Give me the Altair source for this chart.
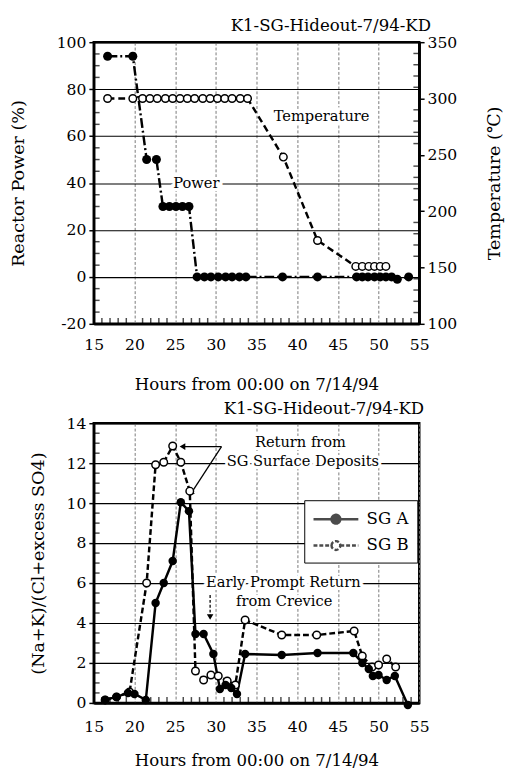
import altair as alt
import pandas as pd

FONT = "DejaVu Serif"
INK = "black"

# ---------------- top panel data ----------------
power_hours = [16.7, 19.8, 21.5, 22.7, 23.5, 24.3, 25.1, 25.9, 26.7,
               27.7, 28.6, 29.4, 30.3, 31.2, 32.0, 32.9, 33.7, 38.2, 42.5,
               47.3, 48.0, 48.7, 49.5, 50.2, 50.9, 51.6, 52.3, 53.7]
power_vals = [94, 94, 50, 50, 30, 30, 30, 30, 30,
              0, 0, 0, 0, 0, 0, 0, 0, 0, 0,
              0, 0, 0, 0, 0, 0, 0, -1, 0]
temp_hours = [16.7, 19.8, 21.0, 21.9, 22.8, 23.8, 24.7, 25.6, 26.5, 27.4,
              28.4, 29.3, 30.2, 31.1, 32.0, 33.0, 33.9, 38.3, 42.5,
              47.2, 48.0, 48.8, 49.5, 50.2, 50.9]
temp_vals = [300, 300, 300, 300, 300, 300, 300, 300, 300, 300,
             300, 300, 300, 300, 300, 300, 300, 248, 174,
             151, 151, 151, 151, 151, 151]
hour_ticks = [15, 20, 25, 30, 35, 40, 45, 50, 55]
power_ticks = [-20, 0, 20, 40, 60, 80, 100]
temp_ticks = [100, 150, 200, 250, 300, 350]
hour_minor = [h for h in range(16, 55) if h % 5]
power_minor = [v for v in range(-15, 100, 5) if v % 20]
temp_minor = [v for v in range(110, 350, 10) if v % 50]
top_labels = ["Power", "Temperature"]
top_label_hours = [27.6, 43.0]
top_label_power = [40, 68.5]

# ---------------- bottom panel data ----------------
a_hours = [16.4, 17.8, 19.2, 20.0, 21.4, 22.6, 23.6, 24.7, 25.7, 26.7,
           27.5, 28.5, 29.7, 30.5, 31.2, 31.9, 32.6, 33.6, 38.1, 42.5,
           46.9, 48.0, 48.8, 49.3, 50.0, 51.0, 52.0, 53.6]
a_vals = [0.15, 0.3, 0.5, 0.45, 0.15, 5.0, 6.0, 7.1, 10.05, 9.6,
          3.45, 3.45, 2.45, 0.7, 0.9, 0.75, 0.45, 2.45, 2.4, 2.5,
          2.5, 2.0, 1.7, 1.35, 1.4, 1.15, 1.35, -0.1]
b_hours = [16.4, 17.8, 19.4, 21.5, 22.6, 23.6, 24.7, 25.7, 26.8, 27.5,
           28.5, 29.4, 30.3, 31.4, 32.4, 33.6, 38.1, 42.4, 47.0, 48.0,
           49.2, 50.0, 51.0, 52.1]
b_vals = [0.15, 0.3, 0.55, 6.0, 11.92, 12.05, 12.86, 12.05, 10.6, 1.6,
          1.15, 1.4, 1.35, 1.1, 0.9, 4.15, 3.4, 3.4, 3.6, 2.35,
          1.8, 1.9, 2.2, 1.8]
series_names = ["SG A", "SG B"]
ratio_ticks = [0, 2, 4, 6, 8, 10, 12, 14]
ratio_minor = [v / 2 for v in range(1, 28) if v % 4]
note_texts = ["Return from", "SG Surface Deposits", "Early Prompt Return", "from Crevice"]
note_hours = [40.4, 40.7, 38.3, 38.4]
note_vals = [13.07, 12.1, 6.05, 5.12]
arrow_from_h = [30.7, 30.7, 29.3]
arrow_from_v = [12.83, 12.83, 5.4]
arrow_to_h = [25.9, 26.9, 29.3]
arrow_to_v = [12.83, 10.45, 4.3]
arrow_angle = [270, 213.5, 180]

# ---------------- helpers ----------------
W, H1, H2 = 334, 289, 287


def ax(**kw):
    d = dict(labelFont=FONT, labelFontSize=16, labelColor=INK, titleFont=FONT,
             titleFontSize=18, titleFontWeight="normal", titleColor=INK,
             domainColor=INK, domainWidth=2.5, tickColor=INK, tickWidth=1.5)
    d.update(kw)
    return alt.Axis(**d)


xs = alt.Scale(domain=[15, 55], nice=False, zero=False)
ps = alt.Scale(domain=[-20, 100], nice=False, zero=False)
ts = alt.Scale(domain=[100, 350], nice=False, zero=False)
rs = alt.Scale(domain=[0, 14], nice=False, zero=False)

x_top_axis = ax(values=hour_ticks, title="Hours from 00:00 on 7/14/94", grid=True,
                gridColor="#777", gridDash=[3, 2], gridWidth=1, ticks=False, labelFlush=False,
                labelPadding=13, titleY=54, titleBaseline="top", titleFontSize=17)
y_power_axis = ax(values=power_ticks, title="Reactor Power (%)", titleX=-77, titleY=H1 / 2,
                  titleAngle=270, titleBaseline="middle", titleAlign="center",
                  grid=True, gridColor=INK, gridWidth=1.2, tickSize=5, labelPadding=3,
                  labelExpr="datum.value")
y_temp_axis = ax(values=temp_ticks, orient="right", title="Temperature (℃)", titleX=77,
                 titleY=H1 / 2, titleAngle=270, titleBaseline="middle", titleAlign="center",
                 grid=False, tickSize=5, labelPadding=3)
x_bot_axis = ax(values=hour_ticks, title="Hours from 00:00 on 7/14/94", grid=True,
                gridColor="#777", gridDash=[3, 2], gridWidth=1, ticks=False, labelFlush=False,
                labelPadding=16, titleY=51, titleBaseline="top", titleFontSize=17)
y_ratio_axis = ax(values=ratio_ticks, title="(Na+K)/(Cl+excess SO4)", titleX=-57, titleY=H2 / 2,
                  titleAngle=270, titleBaseline="middle", titleAlign="center",
                  grid=True, gridColor=INK, gridWidth=1.2, tickSize=5, labelPadding=3)


def XT(f):
    return alt.X(f, scale=xs, axis=x_top_axis)


def YP(f):
    return alt.Y(f, scale=ps, axis=y_power_axis)


def YT(f):
    return alt.Y(f, scale=ts, axis=y_temp_axis)


def XB(f):
    return alt.X(f, scale=xs, axis=x_bot_axis)


def YR(f):
    return alt.Y(f, scale=rs, axis=y_ratio_axis)


# ---------------- top panel ----------------
power_df = pd.DataFrame({"hour": power_hours, "power": power_vals})
temp_df = pd.DataFrame({"hour": temp_hours, "temp": temp_vals})
toplab_df = pd.DataFrame({"hour": top_label_hours, "power": top_label_power, "txt": top_labels})

halo_top = alt.Chart(toplab_df).mark_text(font=FONT, fontSize=15, color="white",
                                          stroke="white", strokeWidth=6).encode(
    x=XT("hour:Q"), y=YP("power:Q"), text="txt:N")
text_top = alt.Chart(toplab_df).mark_text(font=FONT, fontSize=15, color=INK).encode(
    x=XT("hour:Q"), y=YP("power:Q"), text="txt:N")
power_line = alt.Chart(power_df).mark_line(color=INK, strokeWidth=2.5, strokeDash=[10, 3, 2, 3]).encode(
    x=XT("hour:Q"), y=YP("power:Q"))
power_pts = alt.Chart(power_df).mark_circle(color=INK, size=85, opacity=1).encode(
    x=XT("hour:Q"), y=YP("power:Q"))
pminor = alt.Chart(pd.DataFrame({"v": power_minor})).mark_tick(
    orient="horizontal", color=INK, size=6, thickness=1.5).encode(
    y=YP("v:Q"), x=alt.value(3))
hminor_top = alt.Chart(pd.DataFrame({"h": hour_minor})).mark_tick(
    orient="vertical", color=INK, size=6, thickness=1.5).encode(
    x=XT("h:Q"), y=alt.value(H1 - 3))

temp_line = alt.Chart(temp_df).mark_line(color=INK, strokeWidth=2.5, strokeDash=[7, 4]).encode(
    x=XT("hour:Q"), y=YT("temp:Q"))
temp_pts = alt.Chart(temp_df).mark_point(shape="circle", filled=True, fill="white", stroke=INK,
                                         strokeWidth=1.5, size=60, opacity=1).encode(
    x=XT("hour:Q"), y=YT("temp:Q"))
tminor = alt.Chart(pd.DataFrame({"v": temp_minor})).mark_tick(
    orient="horizontal", color=INK, size=6, thickness=1.5).encode(
    y=YT("v:Q"), x=alt.value(W - 3))

top = alt.layer(
    alt.layer(halo_top, pminor, hminor_top, power_line, power_pts, text_top),
    alt.layer(temp_line, temp_pts, tminor),
).resolve_scale(y="independent").properties(
    width=W, height=H1,
    title=alt.TitleParams("K1-SG-Hideout-7/94-KD", anchor="end", frame="group", font=FONT,
                          fontSize=17, fontWeight="normal", color=INK, offset=-1, dx=12))

# ---------------- bottom panel ----------------
a_df = pd.DataFrame({"hour": a_hours, "ratio": a_vals})
b_df = pd.DataFrame({"hour": b_hours, "ratio": b_vals})
note_df = pd.DataFrame({"hour": note_hours, "ratio": note_vals, "txt": note_texts})
arrow_df = pd.DataFrame({"h1": arrow_from_h, "v1": arrow_from_v, "h2": arrow_to_h,
                         "v2": arrow_to_v, "ang": arrow_angle})
legend_data = alt.Data(values=[{"series": s, "hour": None, "ratio": None} for s in series_names])

halo_bot = alt.Chart(note_df).mark_text(font=FONT, fontSize=15, color="white",
                                        stroke="white", strokeWidth=6).encode(
    x=XB("hour:Q"), y=YR("ratio:Q"), text="txt:N")
text_bot = alt.Chart(note_df).mark_text(font=FONT, fontSize=15, color=INK).encode(
    x=XB("hour:Q"), y=YR("ratio:Q"), text="txt:N")
arrow_solid = alt.Chart(arrow_df.iloc[:2]).mark_rule(color=INK, strokeWidth=1.3).encode(
    x=XB("h1:Q"), y=YR("v1:Q"), x2="h2:Q", y2="v2:Q")
arrow_dashed = alt.Chart(arrow_df.iloc[2:]).mark_rule(color=INK, strokeWidth=1.3, strokeDash=[3, 2]).encode(
    x=XB("h1:Q"), y=YR("v1:Q"), x2="h2:Q", y2="v2:Q")
arrow_heads = alt.Chart(arrow_df).mark_point(shape="triangle-up", filled=True, color=INK,
                                             size=45, opacity=1).encode(
    x=XB("h2:Q"), y=YR("v2:Q"), angle=alt.Angle("ang:Q", scale=None))
b_line = alt.Chart(b_df).mark_line(color=INK, strokeWidth=2.5, strokeDash=[6, 3]).encode(
    x=XB("hour:Q"), y=YR("ratio:Q"))
a_line = alt.Chart(a_df).mark_line(color=INK, strokeWidth=2.5).encode(
    x=XB("hour:Q"), y=YR("ratio:Q"))
b_pts = alt.Chart(b_df).mark_point(shape="circle", filled=True, fill="white", stroke=INK,
                                   strokeWidth=1.5, size=60, opacity=1).encode(
    x=XB("hour:Q"), y=YR("ratio:Q"))
a_pts = alt.Chart(a_df).mark_circle(color=INK, size=75, opacity=1).encode(
    x=XB("hour:Q"), y=YR("ratio:Q"))
rminor = alt.Chart(pd.DataFrame({"v": ratio_minor})).mark_tick(
    orient="horizontal", color=INK, size=6, thickness=1.5).encode(
    y=YR("v:Q"), x=alt.value(3))
hminor_bot = alt.Chart(pd.DataFrame({"h": hour_minor})).mark_tick(
    orient="vertical", color=INK, size=6, thickness=1.5).encode(
    x=XB("h:Q"), y=alt.value(H2 - 3))

LEG_PATH = ("M-2.3,0H-0.45M0.45,0H2.3"
            "M-0.45,0A0.45,0.45,0,1,1,0.45,0A0.45,0.45,0,1,1,-0.45,0")
leg_kw = dict(title=None, orient="none", legendX=216, legendY=79, symbolType=LEG_PATH,
              symbolSize=400, symbolOffset=13, labelOffset=20, labelFont=FONT,
              labelFontSize=17, labelColor=INK, strokeColor=INK, fillColor="white",
              padding=8, rowPadding=6, symbolStrokeWidth=2.5, symbolStrokeColor=INK)
legend_layer = alt.Chart(legend_data).mark_point(shape="circle", filled=True, stroke=INK,
                                                 strokeWidth=2.5, size=0).encode(
    x=XB("hour:Q"), y=YR("ratio:Q"),
    fill=alt.Fill("series:N", scale=alt.Scale(domain=series_names, range=[INK, "white"]),
                  legend=alt.Legend(**leg_kw)),
    strokeDash=alt.StrokeDash("series:N", scale=alt.Scale(domain=series_names, range=[[1, 0], [4, 2]]),
                              legend=alt.Legend(**leg_kw)))

bottom = alt.layer(
    halo_bot, rminor, hminor_bot, arrow_solid, arrow_dashed, arrow_heads,
    b_line, a_line, b_pts, a_pts, text_bot, legend_layer,
).properties(
    width=W, height=H2,
    title=alt.TitleParams("K1-SG-Hideout-7/94-KD", anchor="end", frame="group", font=FONT,
                          fontSize=17, fontWeight="normal", color=INK, offset=-3, dx=5))

chart = alt.vconcat(top, bottom, spacing=5).resolve_scale(
    fill="independent", strokeDash="independent"
).resolve_legend(fill="independent", strokeDash="independent").properties(
    padding={"left": 0, "top": -2, "right": 0, "bottom": 0}, background="white"
).configure_view(stroke=INK, strokeWidth=2.5)

chart.save("out.html", embed_options={"renderer": "svg", "actions": False})
